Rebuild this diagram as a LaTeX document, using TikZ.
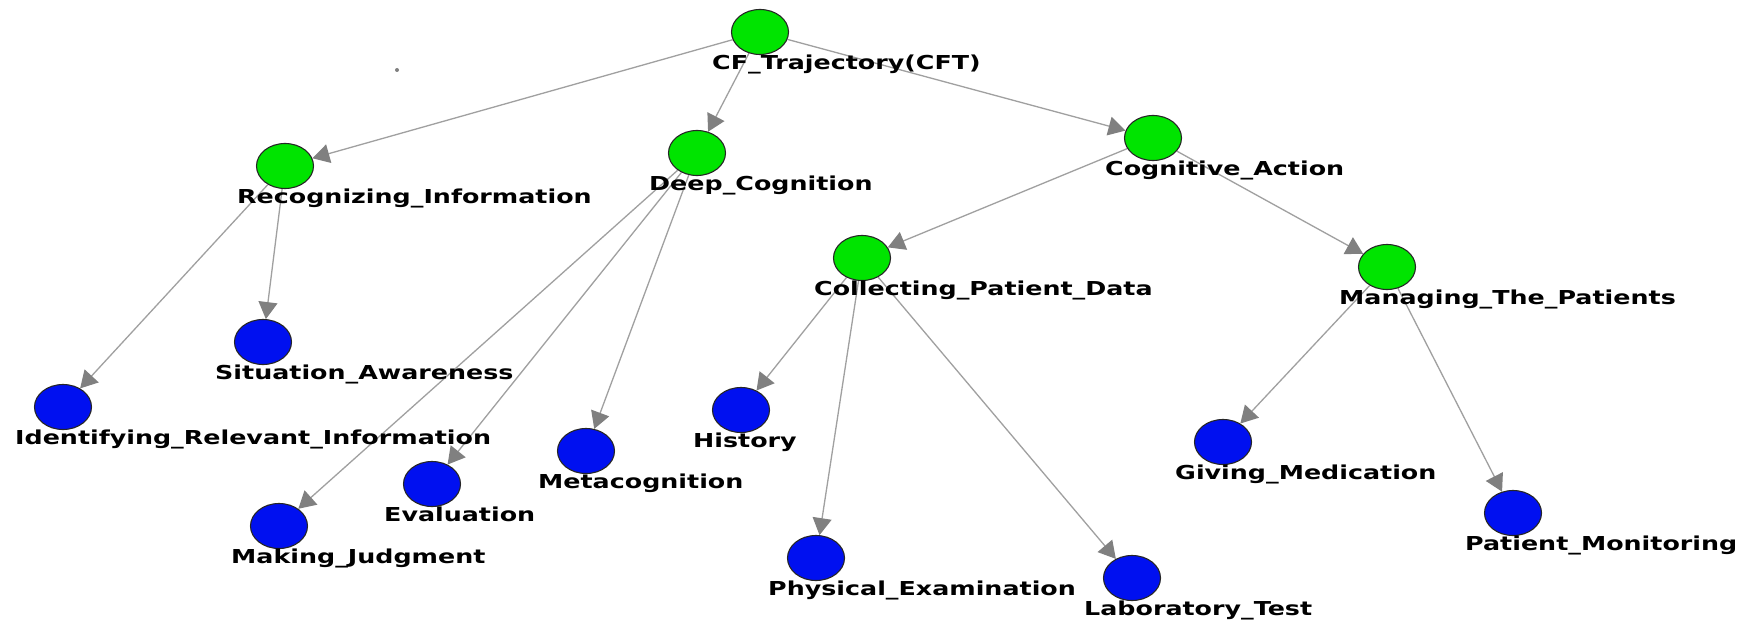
\documentclass[tikz,border=0pt]{standalone}
\usepackage{fontspec}
\setmainfont{DejaVu Sans}
\usetikzlibrary{shapes.geometric,arrows.meta,backgrounds}
\definecolor{ngreen}{RGB}{0,228,0}
\definecolor{nblue}{RGB}{0,16,240}
\definecolor{edgegray}{RGB}{160,160,160}
\definecolor{tipgray}{RGB}{128,128,128}
\tikzset{
  vert/.style={ellipse, draw=black!85, line width=1.1pt, minimum width=57pt, minimum height=45pt, inner sep=0pt},
  inner/.style={vert, fill=ngreen},
  leaf/.style={vert, fill=nblue},
  lbl/.style={anchor=base west, inner sep=0pt, font=\bfseries\fontsize{19.2}{20}\selectfont},
  edge/.style={draw=edgegray, line width=1.3pt, -{Triangle[length=17pt,width=19pt,fill=tipgray,color=tipgray]}},
}
\newcommand{\lab}[3]{\node[lbl] (#1-l) at ([xshift=-48pt,yshift=-37.5pt]#1.center) {\scalebox{1.32}[1]{#3}};}
\begin{document}
\begin{tikzpicture}[x=1pt,y=-1pt]
\useasboundingbox (0,0) rectangle (1743,623);
% vertices
\node[inner] (cft) at (760,32) {};
\node[inner] (ri) at (285,166) {};
\node[inner] (dc) at (697,153) {};
\node[inner] (ca) at (1153,138) {};
\node[inner] (cpd) at (862,258) {};
\node[inner] (mtp) at (1387,267) {};
\node[leaf] (sa) at (263,342) {};
\node[leaf] (iri) at (63,407) {};
\node[leaf] (mj) at (279,526) {};
\node[leaf] (ev) at (432,484) {};
\node[leaf] (mc) at (586,451) {};
\node[leaf] (hi) at (741,410) {};
\node[leaf] (pe) at (816,558) {};
\node[leaf] (lt) at (1132,578) {};
\node[leaf] (gm) at (1223,442) {};
\node[leaf] (pm) at (1513,513) {};
% edges
\begin{scope}[on background layer]
\fill[white] (0,0) rectangle (1743,623);
\draw[edge] (cft) -- (ri);
\draw[edge] (cft) -- (dc);
\draw[edge] (cft) -- (ca);
\draw[edge] (ri) -- (iri);
\draw[edge] (ri) -- (sa);
\draw[edge] (dc) -- (mj);
\draw[edge] (dc) -- (ev);
\draw[edge] (dc) -- (mc);
\draw[edge] (ca) -- (cpd);
\draw[edge] (ca) -- (mtp);
\draw[edge] (cpd) -- (hi);
\draw[edge] (cpd) -- (pe);
\draw[edge] (cpd) -- (lt);
\draw[edge] (mtp) -- (gm);
\draw[edge] (mtp) -- (pm);
\end{scope}
% labels
\lab{cft}{}{CF\_Trajectory(CFT)}
\lab{ri}{}{Recognizing\_Information}
\lab{dc}{}{Deep\_Cognition}
\lab{ca}{}{Cognitive\_Action}
\lab{cpd}{}{Collecting\_Patient\_Data}
\lab{mtp}{}{Managing\_The\_Patients}
\lab{sa}{}{Situation\_Awareness}
\lab{iri}{}{Identifying\_Relevant\_Information}
\lab{mj}{}{Making\_Judgment}
\lab{ev}{}{Evaluation}
\lab{mc}{}{Metacognition}
\lab{hi}{}{History}
\lab{pe}{}{Physical\_Examination}
\lab{lt}{}{Laboratory\_Test}
\lab{gm}{}{Giving\_Medication}
\lab{pm}{}{Patient\_Monitoring}
% stray dot
\fill[gray] (397,70) circle (2);
\end{tikzpicture}
\end{document}
